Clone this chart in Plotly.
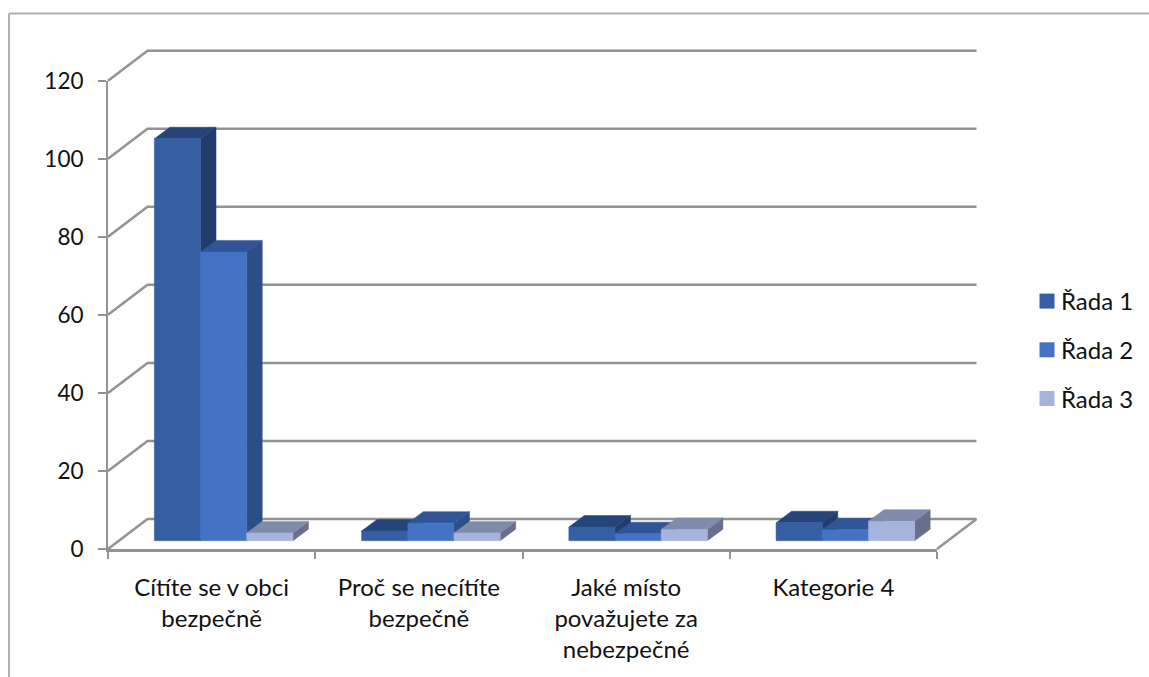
import plotly.graph_objects as go

CATEGORIES = ["Cítíte se v obci<br>bezpečně", "Proč se necítíte<br>bezpečně",
              "Jaké místo<br>považujete za<br>nebezpečné", "Kategorie 4"]
SERIES_NAMES = ["Řada 1", "Řada 2", "Řada 3"]
RADA_1 = [103, 2.5, 3.5, 4.6]
RADA_2 = [74, 4.5, 1.8, 2.8]
RADA_3 = [2, 2, 2.9, 5]
Y_TICKS = [0, 20, 40, 60, 80, 100, 120]

W, H = 1149, 677
AX_L, AX_R, AX_T, AX_B = 108, 937, 80.7, 549
UX = (AX_R - AX_L) / len(CATEGORIES)
UY = (AX_B - AX_T) / 120

WALL_DX, WALL_DY = 39.5 / UX, 30 / UY
BAR_DX, BAR_DY = 15.5 / UX, 11.5 / UY
BASE_DX, BASE_DY = 12 / UX, 8.3 / UY
BAR_W = 46.2 / UX
GAP = (1 - 3 * BAR_W) / 2

FRONT = ["#365FA3", "#4472C4", "#A5B4DC"]
TOP = ["#25457A", "#2F5596", "#7F8BA8"]
SIDE = ["#213B6A", "#2C4F88", "#686F8C"]
GRID = "#939393"
TEXT = "#111111"
FONT = "Lato"
FS = 24

fig = go.Figure()

def poly(xs, ys, color):
    fig.add_trace(go.Scatter(x=xs, y=ys, mode="lines", fill="toself", fillcolor=color,
                             line=dict(color=color, width=0.5), xaxis="x2", yaxis="y2",
                             hoverinfo="skip", showlegend=False))

for v in Y_TICKS:
    fig.add_trace(go.Scatter(
        x=[0, WALL_DX, len(CATEGORIES) + WALL_DX],
        y=[v, v + WALL_DY, v + WALL_DY],
        mode="lines", line=dict(color=GRID, width=2.5), xaxis="x2", yaxis="y2",
        hoverinfo="skip", showlegend=False))
fig.add_trace(go.Scatter(
    x=[len(CATEGORIES) + WALL_DX, len(CATEGORIES)], y=[WALL_DY, 0],
    mode="lines", line=dict(color=GRID, width=2.5), xaxis="x2", yaxis="y2",
    hoverinfo="skip", showlegend=False))

for c in range(len(CATEGORIES)):
    for s, values in enumerate([RADA_1, RADA_2, RADA_3]):
        v = values[c]
        x0 = c + GAP + BASE_DX + s * BAR_W
        x1 = x0 + BAR_W
        y0 = BASE_DY
        y1 = BASE_DY + v
        poly([x1, x1 + BAR_DX, x1 + BAR_DX, x1, x1],
             [y0, y0 + BAR_DY, y1 + BAR_DY, y1, y0], SIDE[s])
        poly([x0, x1, x1 + BAR_DX, x0 + BAR_DX, x0],
             [y1, y1, y1 + BAR_DY, y1 + BAR_DY, y1], TOP[s])
        poly([x0, x1, x1, x0, x0], [y0, y0, y1, y1, y0], FRONT[s])

for s, name in enumerate(SERIES_NAMES):
    fig.add_trace(go.Scatter(x=[None], y=[None], mode="markers", name=name,
                             legendgroup=name,
                             marker=dict(symbol="square", size=15, color=FRONT[s])))

fig.update_layout(
    width=W, height=H, autosize=False,
    margin=dict(l=0, r=0, t=0, b=0, autoexpand=False),
    paper_bgcolor="white", plot_bgcolor="rgba(0,0,0,0)",
    font=dict(family=FONT, size=FS, color=TEXT),
    xaxis=dict(domain=[AX_L / W, AX_R / W], range=[0, len(CATEGORIES)],
               automargin=False, tickmode="array",
               tickvals=[i + 0.5 for i in range(len(CATEGORIES))],
               ticktext=CATEGORIES, ticks="", showgrid=False, zeroline=False,
               showline=True, linecolor=GRID, linewidth=2.5,
               ticklabelstandoff=15, tickangle=0, tickfont=dict(size=FS),
               minor=dict(tick0=0, dtick=1, ticks="outside", ticklen=7,
                          tickcolor=GRID, tickwidth=1.5, showgrid=False)),
    yaxis=dict(domain=[(H - AX_B) / H, (H - AX_T) / H], range=[0, 120],
               automargin=False, tickmode="array", tickvals=Y_TICKS,
               ticks="outside", ticklen=8, tickfont=dict(size=22.5),
               tickcolor=GRID, tickwidth=2, showgrid=False, zeroline=False,
               showline=True, linecolor=GRID, linewidth=2,
               ticklabelstandoff=10),
    xaxis2=dict(domain=[0, 1], range=[-AX_L / UX, (W - AX_L) / UX], visible=False,
                anchor="y2", automargin=False),
    yaxis2=dict(domain=[0, 1], range=[(AX_B - H) / UY, AX_B / UY], visible=False,
                anchor="x2", automargin=False),
    legend=dict(x=1027 / W, xanchor="left", y=(H - 350) / H, yanchor="middle",
                tracegroupgap=14.5, font=dict(family=FONT, size=FS, color=TEXT),
                bgcolor="rgba(0,0,0,0)", itemclick=False, itemdoubleclick=False),
    shapes=[
        dict(type="line", xref="paper", yref="paper", x0=9 / W, x1=1, y0=(H - 13.5) / H, y1=(H - 13.5) / H,
             line=dict(color="#b0b0b0", width=2)),
        dict(type="line", xref="paper", yref="paper", x0=9 / W, x1=9 / W, y0=0, y1=(H - 13.5) / H,
             line=dict(color="#b0b0b0", width=2)),
    ],
)

fig.write_html("out.html", config=dict(displayModeBar=False),
               post_script="document.body.style.margin='0';document.documentElement.style.overflow='hidden';"
                           "document.querySelectorAll('.legendtext').forEach(t=>t.setAttribute('x',34));")
